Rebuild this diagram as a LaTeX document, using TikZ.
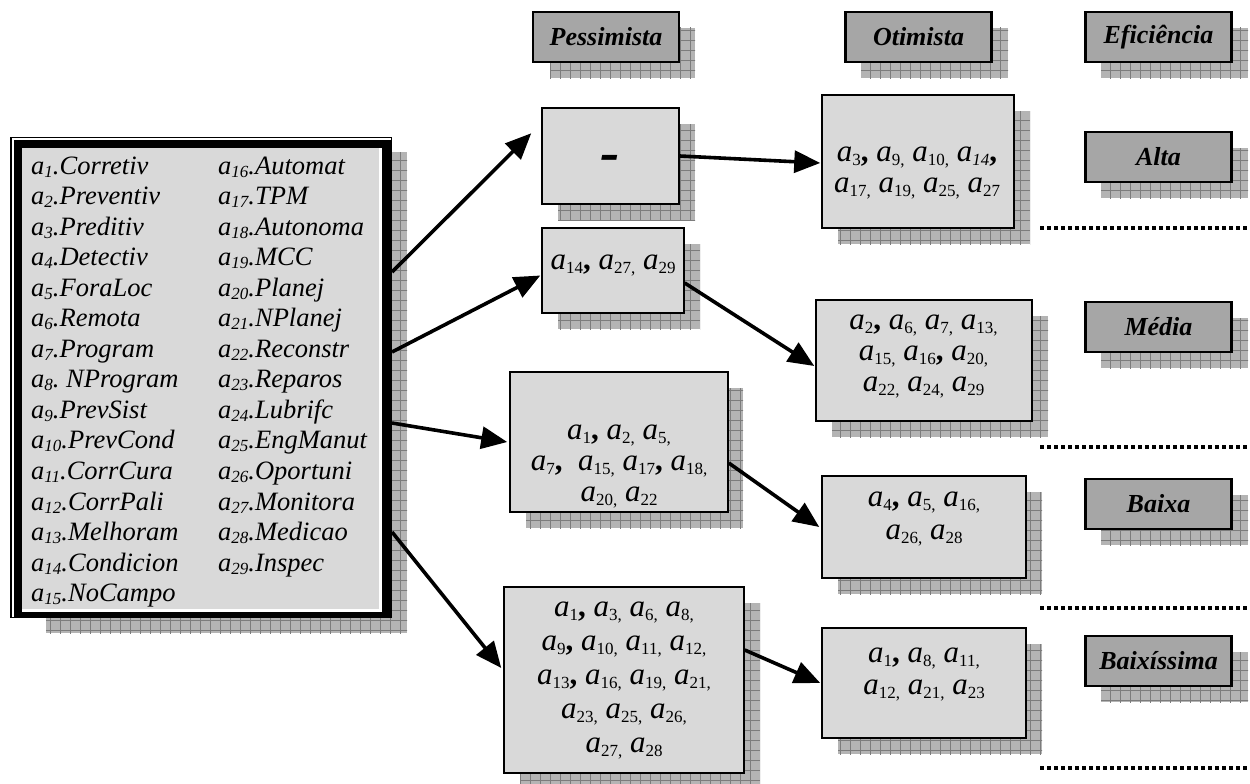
\documentclass[tikz,border=0pt]{standalone}
\usepackage{fontspec}
\setmainfont{Liberation Serif}
\usetikzlibrary{arrows.meta}
\definecolor{boxgray}{HTML}{D9D9D9}
\definecolor{hdrgray}{HTML}{A6A6A6}
\definecolor{shfill}{HTML}{B4B4B4}
\definecolor{shline}{HTML}{7C7C7C}
\newcommand{\myA}[1]{\textit{a}{\fontsize{17}{17}\selectfont\raisebox{-4pt}{#1}}}
\newcommand{\myAc}[1]{\textit{a}{\fontsize{17}{17}\selectfont\raisebox{-4pt}{#1,}}}
\newcommand{\bcm}{\textbf{,}}
\newcommand{\sbl}[1]{\raisebox{-3pt}{\fontsize{17}{17}\selectfont #1}}
\newcommand{\shad}[4]{%
  \fill[shfill] (#1,#2) rectangle (#3,#4);
  \begin{scope}
    \clip (#1,#2) rectangle (#3,#4);
    \draw[shline, line width=0.8pt, step=10pt] (#1-10,#4+10) grid (#3+10,#2-10);
  \end{scope}}
\begin{document}
\begin{tikzpicture}[x=1pt,y=-1pt,
  hdr/.style={draw=black, line width=2.5pt, fill=hdrgray, inner sep=0, minimum width=146pt, minimum height=50pt, font=\fontsize{26}{26}\selectfont\bfseries\itshape},
  obox/.style={draw=black, line width=1.5pt, fill=boxgray, inner sep=0},
  rtext/.style={align=center, inner sep=0, font=\fontsize{31}{31}\selectfont},
  ltext/.style={anchor=base west, inner sep=0, font=\fontsize{26.5}{26.5}\selectfont\itshape},
  arr/.style={line width=3.6pt, -{Triangle[length=26pt,width=22pt]}},
  dotline/.style={line width=3.5pt, dash pattern=on 3.5pt off 3.5pt},
]
\useasboundingbox (0,0) rectangle (1250,784);

% shadows
\shad{46}{152}{407}{633}
\shad{550}{28}{695}{78}
\shad{861}{28}{1008}{78}
\shad{1101}{28}{1248}{78}
\shad{1101}{148}{1248}{198}
\shad{1101}{318}{1248}{368}
\shad{1101}{495}{1248}{545}
\shad{1101}{652}{1248}{702}
\shad{558}{124}{695}{220}
\shad{558}{244}{700}{329}
\shad{526}{388}{743}{528}
\shad{520}{603}{760}{790}
\shad{838}{111}{1030}{244}
\shad{832}{316}{1048}{437}
\shad{838}{492}{1042}{594}
\shad{838}{644}{1042}{754}

% left list box
\node[fill=black, inner sep=0, outer sep=0, minimum width=382pt, minimum height=481pt] (lst) at (201,377.5) {};
\draw[white, line width=1.5pt] (12.8,617) -- (12.8,138.8) -- (391,138.8);
\fill[white] (22,148) rectangle (382,612);
\fill[boxgray] (22,148) rectangle (379,609);
\foreach \n/\t [count=\k from 0] in {1/Corretiv, 2/Preventiv, 3/Preditiv, 4/Detectiv, 5/ForaLoc, 6/Remota, 7/Program, 8/{\ NProgram}, 9/PrevSist, 10/PrevCond, 11/CorrCura, 12/CorrPali, 13/Melhoram, 14/Condicion, 15/NoCampo}
  \node[ltext] (l\n) at (31,174+30.55*\k) {a\sbl{\n}.\t};
\foreach \n/\t [count=\k from 0] in {16/Automat, 17/TPM, 18/Autonoma, 19/MCC, 20/Planej, 21/NPlanej, 22/Reconstr, 23/Reparos, 24/Lubrifc, 25/EngManut, 26/Oportuni, 27/Monitora, 28/Medicao, 29/Inspec}
  \node[ltext] (l\n) at (218,174+30.55*\k) {a\sbl{\n}.\t};

% headers
\node[hdr] (hp) at (606,37) {Pessimista};
\node[hdr] (ho) at (918.5,37) {Otimista};
\node[hdr] (he) at (1158.5,37) {Eficiência};
\node[hdr] (ha) at (1158.5,157) {Alta};
\node[hdr] (hm) at (1158.5,327) {Média};
\node[hdr] (hb) at (1158.5,504) {Baixa};
\node[hdr] (hbb) at (1158.5,661) {Baixíssima};

% pessimista boxes
\node[obox, minimum width=137pt, minimum height=96pt] (p1) at (610.5,156) {};
\node[inner sep=0, font=\fontsize{58}{58}\selectfont\bfseries\itshape] (dash) at (610,163) {-};
\node[obox, minimum width=142pt, minimum height=85pt] (p2) at (613,270.5) {};
\node[obox, minimum width=218pt, minimum height=140pt] (p3) at (619,442) {};
\node[obox, minimum width=240pt, minimum height=186pt] (p4) at (624,680) {};

% otimista boxes
\node[obox, minimum width=192pt, minimum height=133pt] (o1) at (918,161.5) {};
\node[obox, minimum width=216pt, minimum height=121pt] (o2) at (924,360.5) {};
\node[obox, minimum width=204pt, minimum height=102pt] (o3) at (924,527) {};
\node[obox, minimum width=204pt, minimum height=110pt] (o4) at (924,683) {};

% texts
\node[rtext, font=\fontsize{31}{31}\selectfont] (t1) at (917,173) {\myA{3}\bcm{} \myAc{9} \myAc{10} \myA{\textit{14}}\bcm\\ \myAc{17} \myAc{19} \myAc{25} \myA{27}};
\node[rtext] (t2) at (613,265.6) {\myA{14}\bcm{} \myAc{27} \myA{29}};
\node[rtext, font=\fontsize{31}{31}\selectfont] (t3) at (619,467) {\myA{1}\bcm{} \myAc{2} \myAc{5}\\ \myA{7}\bcm{}\ \ \myAc{15} \myA{17}\bcm{} \myAc{18}\\ \myAc{20} \myA{22}};
\node[rtext, font=\fontsize{31}{34}\selectfont] (t4) at (624,680.6) {\myA{1}\bcm{} \myAc{3} \myAc{6} \myAc{8}\\ \myA{9}\bcm{} \myAc{10} \myAc{11} \myAc{12}\\ \myA{13}\bcm{} \myAc{16} \myAc{19} \myAc{21}\\ \myAc{23} \myAc{25} \myAc{26}\\ \myAc{27} \myA{28}};
\node[rtext] (t5) at (923.5,356.4) {\myA{2}\bcm{} \myAc{6} \myAc{7} \myAc{13}\\ \myAc{15} \myA{16}\bcm{} \myAc{20}\\ \myAc{22} \myAc{24} \myA{29}};
\node[rtext, font=\fontsize{31}{33}\selectfont] (t6) at (924,518.6) {\myA{4}\bcm{} \myAc{5} \myAc{16}\\ \myAc{26} \myA{28}};
\node[rtext, font=\fontsize{31}{32}\selectfont] (t7) at (924,674.6) {\myA{1}\bcm{} \myAc{8} \myAc{11}\\ \myAc{12} \myAc{21} \myA{23}};

% arrows
\draw[arr] ([yshift=105.5pt]lst.east) -- ([xshift=-10pt,yshift=-26pt]p1.north west);
\draw[arr] ([yshift=25.5pt]lst.east) -- ([xshift=-1pt,yshift=-5pt]p2.west);
\draw[arr] ([yshift=-45.5pt]lst.east) -- ([xshift=-2pt]p3.west);
\draw[arr] ([yshift=-154.5pt]lst.east) -- ([xshift=-2pt,yshift=12pt]p4.west);
\draw[arr] (p1.east) -- ([xshift=-1pt,yshift=-1.5pt]o1.west);
\draw[arr] ([yshift=-12.5pt]p2.east) -- ([xshift=-1pt,yshift=-5.5pt]o2.west);
\draw[arr] ([yshift=-21pt]p3.east) -- ([xshift=-2pt]o3.west);
\draw[arr] ([yshift=30pt]p4.east) -- ([xshift=-1pt]o4.west);

% dotted separators
\draw[dotline] (1040,228) -- (1250,228);
\draw[dotline] (1040,447) -- (1250,447);
\draw[dotline] (1040,608) -- (1250,608);
\draw[dotline] (1040,768) -- (1250,768);
\end{tikzpicture}
\end{document}
